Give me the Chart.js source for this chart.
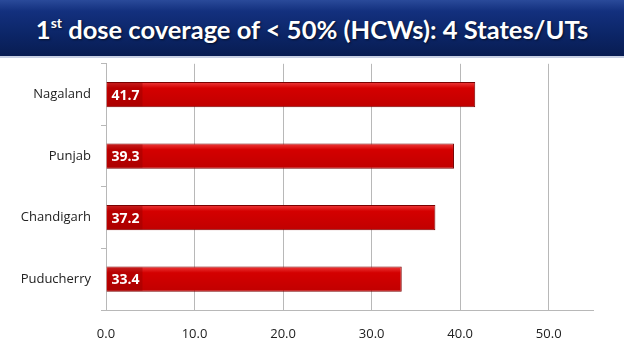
<!DOCTYPE html>
<html>
<head>
<meta charset="utf-8">
<script src="https://cdn.jsdelivr.net/npm/chart.js@4"></script>
<style>
  html, body { margin: 0; padding: 0; background: #fff; }
  body { width: 624px; height: 351px; position: relative; overflow: hidden; }
  #banner {
    position: absolute; left: 0; top: 0; width: 624px; height: 56px; z-index: 2;
    background: linear-gradient(to bottom, #2a4a9a 0%, #13307e 20%, #0c2668 60%, #081c52 100%);
    border-bottom: 2px solid #c8d0e4;
    color: #fff; font-family: Lato, "Open Sans", sans-serif; font-weight: 700;
    font-size: 25.5px; line-height: 58px; text-align: center;
    text-shadow: 1px 1px 2px rgba(0,0,0,0.6);
  }
  #banner sup { font-size: 14px; vertical-align: 11px; line-height: 0; }
  #wrap { position: absolute; left: 0; top: 46px; width: 624px; height: 305px; z-index: 1; }
</style>
</head>
<body>
<div id="banner">1<sup>st</sup> dose coverage of &lt; 50% (HCWs): 4 States/UTs</div>
<div id="wrap"><canvas id="grafico"></canvas></div>
<script>
const estados = ["Nagaland", "Punjab", "Chandigarh", "Puducherry"];
const cobertura = [41.7, 39.3, 37.2, 33.4];

// etiqueta de valor dentro de la barra, a la izquierda
const etiquetas = {
    id: "etiquetas",
    afterDatasetsDraw(chart) {
        const ctx = chart.ctx;
        const meta = chart.getDatasetMeta(0);
        ctx.save();
        ctx.font = "bold 14px 'Open Sans', sans-serif";
        ctx.textBaseline = "middle";
        meta.data.forEach((bar, i) => {
            const h = bar.height;
            ctx.fillStyle = "rgba(150,0,0,0.45)";
            ctx.fillRect(bar.base + 1, bar.y - h / 2 + 1, 35, h - 2);
            ctx.fillStyle = "#fff";
            ctx.fillText(cobertura[i].toFixed(1), bar.base + 5, bar.y + 1);
        });
        ctx.restore();
    }
};

const ctx = document.getElementById("grafico").getContext("2d");
const generaGrafico = new Chart(ctx, {
    type: "bar",
    data: {
        labels: estados,
        datasets: [{
            data: cobertura,
            backgroundColor: (c) => {
                const esc = c.chart.scales.y;
                if (!esc || !c.chart.chartArea) return "#d00000";
                const y = esc.getPixelForValue(c.dataIndex);
                if (!Number.isFinite(y)) return "#d00000";
                const g = c.chart.ctx.createLinearGradient(0, y - 13, 0, y + 13);
                g.addColorStop(0, "#f04040");
                g.addColorStop(0.25, "#d40000");
                g.addColorStop(1, "#c00000");
                return g;
            },
            borderColor: "#7a0000",
            borderWidth: 1,
            borderSkipped: "start",
            categoryPercentage: 0.41,
            barPercentage: 1
        }]
    },
    options: {
        indexAxis: "y",
        responsive: true,
        maintainAspectRatio: false,
        animation: false,
        layout: { padding: { top: 4, right: 31, left: 0, bottom: 0 } },
        plugins: {
            legend: { display: false },
            tooltip: { enabled: false }
        },
        scales: {
            x: {
                min: 0,
                max: 55,
                afterBuildTicks: (axis) => {
                    axis.ticks = axis.ticks.filter(t => t.value % 10 === 0);
                },
                ticks: {
                    stepSize: 10,
                    padding: 16,
                    color: "#222",
                    font: { family: "'Open Sans', sans-serif", size: 13 },
                    callback: (v) => Number(v).toFixed(1)
                },
                grid: { color: "#b8b8b8", tickLength: 0 },
                border: { color: "#b8b8b8" },
                afterFit: (axis) => { axis.height = 41; }
            },
            y: {
                ticks: {
                    color: "#222",
                    padding: 10,
                    font: { family: "'Open Sans', sans-serif", size: 13 }
                },
                grid: { offset: true, drawOnChartArea: false, tickLength: 5, color: "#b8b8b8" },
                border: { color: "#b8b8b8" },
                afterFit: (axis) => { axis.width = 106; }
            }
        }
    },
    plugins: [etiquetas]
});
</script>
</body>
</html>
